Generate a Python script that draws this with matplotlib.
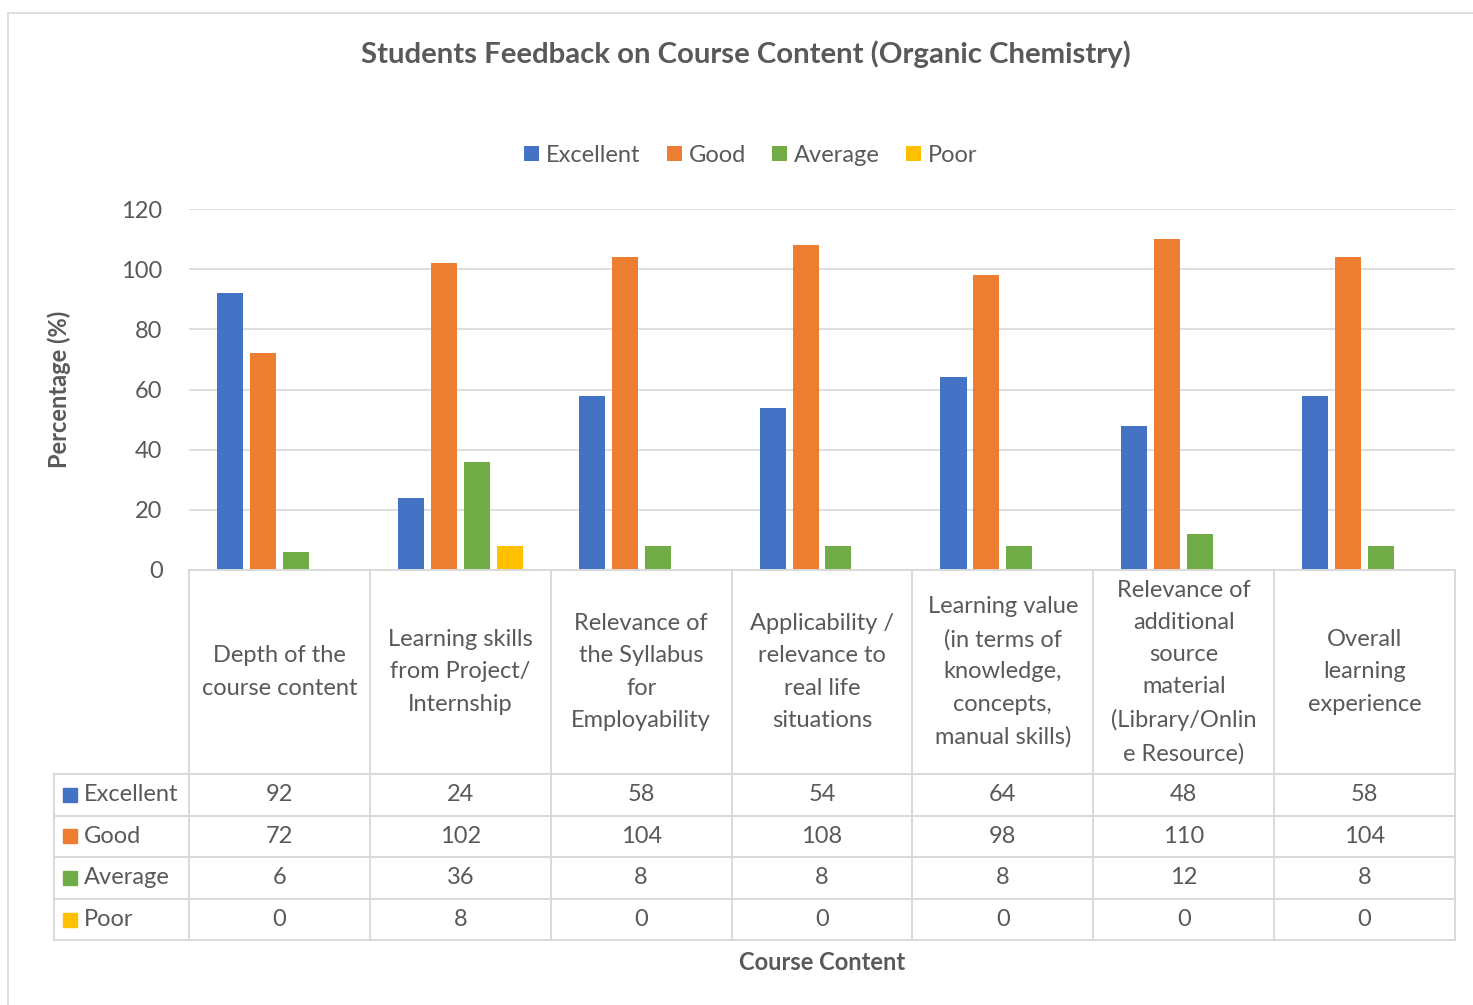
import matplotlib.pyplot as plt
import numpy as np
from matplotlib.lines import Line2D

plt.rcParams['font.family'] = ['Lato', 'DejaVu Sans']

categories = ['Depth of the\ncourse content',
              'Learning skills\nfrom Project/\nInternship',
              'Relevance of\nthe Syllabus\nfor\nEmployability',
              'Applicability /\nrelevance to\nreal life\nsituations',
              'Learning value\n(in terms of\nknowledge,\nconcepts,\nmanual skills)',
              'Relevance of\nadditional\nsource\nmaterial\n(Library/Onlin\ne Resource)',
              'Overall\nlearning\nexperience']
series = ['Excellent', 'Good', 'Average', 'Poor']
excellent = [92, 24, 58, 54, 64, 48, 58]
good = [72, 102, 104, 108, 98, 110, 104]
average = [6, 36, 8, 8, 8, 12, 8]
poor = [0, 8, 0, 0, 0, 0, 0]
values = [excellent, good, average, poor]
colors = ['#4472C4', '#ED7D31', '#70AD47', '#FFC000']
yticks = [0, 20, 40, 60, 80, 100, 120]

W, H = 1473, 1005
txt = '#595959'
grid = '#D9D9D9'
fs = 17


def box(x0, y0, x1, y1):
    return [x0 / W, 1 - y1 / H, (x1 - x0) / W, (y1 - y0) / H]


fig = plt.figure(figsize=(W / 100, H / 100), dpi=100)

# outer chart frame (cut at right/bottom like the screenshot)
fig.add_artist(Line2D([8 / W, 8 / W], [0, 1 - 13 / H], color=grid, lw=1.2))
fig.add_artist(Line2D([8 / W, 1], [1 - 13 / H, 1 - 13 / H], color=grid, lw=1.2))

ax = fig.add_axes(box(189, 209, 1455, 570))
n = len(categories)
x = np.arange(n)
step, bw = 0.182, 0.144
for i, (name, vals) in enumerate(zip(series, values)):
    ax.bar(x + (i - 1.5) * step, vals, bw, color=colors[i], label=name, zorder=3)
ax.set_xlim(-0.5, n - 0.5)
ax.set_ylim(0, 120)
ax.set_yticks(yticks)
ax.set_xticks([])
ax.yaxis.grid(True, color=grid, lw=1.2, zorder=0)
for s in ax.spines.values():
    s.set_visible(False)
ax.tick_params(axis='y', length=0, pad=19, labelsize=fs, labelcolor=txt)
ax.set_ylabel('Percentage (%)', fontsize=fs, fontweight='bold', color=txt, labelpad=36)
fig.suptitle('Students Feedback on Course Content (Organic Chemistry)',
             x=746 / W, y=1 - 54 / H, va='center', fontsize=21.2, fontweight='bold', color=txt)
ax.legend(loc='center', bbox_to_anchor=(751 / W, 1 - 155 / H), bbox_transform=fig.transFigure,
          ncol=4, frameon=False, fontsize=fs, labelcolor=txt, handlelength=0.62,
          handleheight=0.62, handletextpad=0.3, columnspacing=1.12)

# data table under the plot
cw = (1455 - 189) / n
xl = -0.5 - (189 - 54) / cw
tab = fig.add_axes(box(54, 570, 1455, 940))
tab.set_xlim(xl, n - 0.5)
tab.set_ylim(370, 0)
tab.axis('off')
hdr = 204
rows = [hdr, hdr + 41.5, hdr + 83, hdr + 125, 370]
kw = dict(color=grid, lw=1.4, clip_on=False)
tab.plot([-0.5, n - 0.5], [0, 0], **kw)
for r in rows:
    tab.plot([xl, n - 0.5], [r, r], **kw)
for k in range(n + 1):
    tab.plot([k - 0.5, k - 0.5], [0, 370], **kw)
tab.plot([xl, xl], [hdr, 370], **kw)

for k, c in enumerate(categories):
    tab.text(k, hdr / 2, c, ha='center', va='center', fontsize=fs, color=txt,
             linespacing=1.66)
for j, (name, vals) in enumerate(zip(series, values)):
    yc = (rows[j] + rows[j + 1]) / 2
    tab.plot([xl + 16 / cw], [yc], 's', ms=10.5, color=colors[j], clip_on=False)
    tab.text(xl + 30 / cw, yc, name, ha='left', va='center', fontsize=fs, color=txt)
    for k, v in enumerate(vals):
        tab.text(k, yc, str(v), ha='center', va='center', fontsize=fs, color=txt)

fig.text(822 / W, 1 - 962 / H, 'Course Content', ha='center', va='center',
         fontsize=fs, fontweight='bold', color=txt)

fig.savefig('out.png', dpi=100)
